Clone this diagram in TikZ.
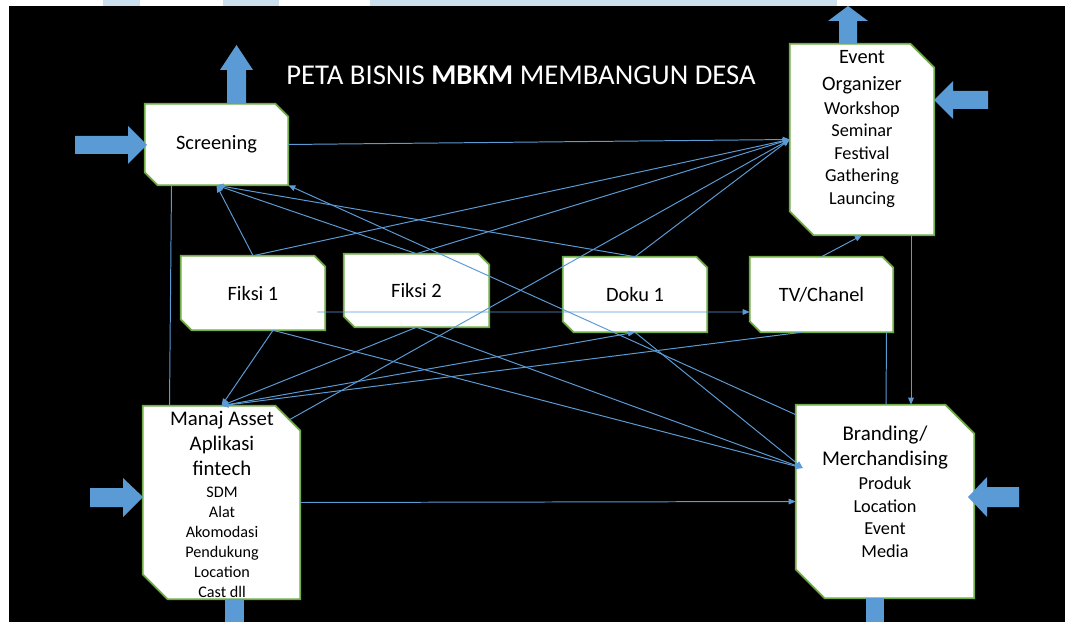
\documentclass[tikz,border=0pt]{standalone}
\usepackage{fontspec}
\setmainfont{Carlito}
\usetikzlibrary{arrows.meta,calc,backgrounds}
\definecolor{boxgreen}{HTML}{70AD47}
\definecolor{linkblue}{HTML}{5B9BD5}
\definecolor{fadeblue}{HTML}{CCDFEE}

\tikzset{
  docbox/.style={rectangle, inner sep=0pt, font=\fontsize{14.5}{17}\selectfont},
  boxline/.style={draw=boxgreen, line width=1.3pt, fill=white, line join=miter},
  link/.style={draw=linkblue, line width=0.7pt},
  linkto/.style={link, -{Triangle[length=5pt,width=4pt]}},
  boxtext/.style={align=center, inner sep=0pt, font=\fontsize{13}{16}\selectfont},
}
% outline with snipped top right and bottom left corners
\newcommand\snipbox[2]{%
  \path[boxline] (#1.north west) -- ($(#1.north east)+(-#2,0)$) -- ($(#1.north east)+(0,#2)$)
    -- (#1.south east) -- ($(#1.south west)+(#2,0)$) -- ($(#1.south west)+(0,-#2)$) -- cycle;}

\begin{document}
\begin{tikzpicture}[x=0.025cm,y=-0.025cm]
\useasboundingbox (0,0) rectangle (1065,622);

% title
\node[text=white, font=\fontsize{20.4}{24}\selectfont] (title) at (521,75)
  {PETA BISNIS \textbf{MBKM} MEMBANGUN DESA};

% boxes
\node[docbox, minimum width=3.575cm, minimum height=2.025cm] (screening) at (216.5,144.5) {Screening};
\node[docbox, minimum width=3.6cm, minimum height=4.775cm] (event) at (862,139.5) {};
\node[docbox, minimum width=3.6cm, minimum height=1.85cm] (fiksi1) at (253,293) {Fiksi 1};
\node[docbox, minimum width=3.625cm, minimum height=1.825cm] (fiksi2) at (416.5,290.5) {Fiksi 2};
\node[docbox, minimum width=3.6cm, minimum height=1.875cm] (doku) at (635,294.5) {Doku 1};
\node[docbox, minimum width=3.575cm, minimum height=1.875cm] (tv) at (821.5,294.5) {TV/Chanel};
\node[docbox, minimum width=3.925cm, minimum height=4.825cm] (manaj) at (221.5,502.5) {};
\node[docbox, minimum width=4.45cm, minimum height=4.825cm] (branding) at (885,501.5) {};

% box texts
\node[boxtext] (eventtext) at (862,129)
  {{\fontsize{14.5}{16}\selectfont Event}\\[3pt]{\fontsize{14.5}{16}\selectfont Organizer}\\[1pt]
   Workshop\\Seminar\\Festival\\Gathering\\Launcing};
\node[boxtext, font=\fontsize{11.5}{14.2}\selectfont] (manajtext) at (222,504)
  {{\fontsize{14.8}{14.2}\selectfont Manaj Asset}\\[3.6pt]{\fontsize{14.8}{14.2}\selectfont Aplikasi}\\[3.6pt]
   {\fontsize{14.8}{14.2}\selectfont fintech}\\[1.5pt]SDM\\Alat\\Akomodasi\\Pendukung\\Location\\Cast dll};
\node[boxtext] (brandingtext) at (885,491.5)
  {{\fontsize{14.9}{16}\selectfont Branding/}\\[1.8pt]{\fontsize{14.9}{16}\selectfont Merchandising}\\[1.5pt]
   Produk\\Location\\Event\\Media};

% background and box outlines
\begin{pgfonlayer}{background}
\fill[white] (0,0) rectangle (1065,622);
\fill[black] (9,6) rectangle (1065,622);
\fill[fadeblue] (103,0) rectangle (140,6);
\fill[fadeblue] (223,0) rectangle (279,6);
\fill[fadeblue] (370,0) rectangle (837,6);
\snipbox{screening}{13}
\snipbox{event}{24}
\snipbox{fiksi1}{11}
\snipbox{fiksi2}{11}
\snipbox{doku}{11}
\snipbox{tv}{11}
\snipbox{manaj}{25}
\snipbox{branding}{29}
\end{pgfonlayer}

% block arrows
\fill[linkblue] (75,136) -- (128,136) -- (128,126) -- (147,145) -- (128,164) -- (128,154) -- (75,154) -- cycle;
\fill[linkblue] (227,104) -- (227,70) -- (220,70) -- (236.5,45) -- (253,70) -- (246,70) -- (246,104) -- cycle;
\fill[linkblue] (839,44) -- (839,21) -- (828,21) -- (848,6) -- (868,21) -- (857,21) -- (857,44) -- cycle;
\fill[linkblue] (988,91) -- (953,91) -- (953,81) -- (934,100) -- (953,119) -- (953,109) -- (988,109) -- cycle;
\fill[linkblue] (90,488) -- (123,488) -- (123,478) -- (143,497) -- (123,517) -- (123,507) -- (90,507) -- cycle;
\fill[linkblue] (225,599) rectangle (244,622);
\fill[linkblue] (1019,487) -- (987,487) -- (987,477) -- (968,497) -- (987,517) -- (987,507) -- (1019,507) -- cycle;
\fill[linkblue] (866,598) rectangle (884,622);

% connectors
\coordinate (brin) at ($(branding.west)+(7,-33.5)$);
\draw[linkto] (screening.east) -- (event.west);
\draw[linkto] (fiksi1.north) -- (event.west);
\draw[linkto] (fiksi2.north) -- (event.west);
\draw[linkto] (doku.north) -- (event.west);
\draw[linkto] ($(manaj.north)+(68,14)$) -- (event.west);
\draw[linkto] (fiksi1.north) -- (screening.south);
\draw[linkto] (fiksi2.north) -- (screening.south);
\draw[linkto] (doku.north) -- (screening.south);
\draw[linkto] ($(branding.north -| branding.west)+(0,10)$) -- (screening.south -| screening.east);
\draw[linkto] (tv.north) -- (event.south);
\draw[linkto] ($(event.south)+(49,0)$) -- ($(branding.north)+(26,0)$);
\draw[link] ($(tv.south)+(65,0)$) -- ($(branding.north)+(1,0)$);
\draw[link] ($(screening.south)+(-45,0)$) -- ($(manaj.north)+(-52,0)$);
\draw[linkto] (manaj.east) -- (branding.west);
\draw[linkto] ($(fiksi1.east)+(-8,19)$) -- ($(tv.west)+(0,17.5)$);
\draw[linkto] ($(fiksi1.south)+(20,0)$) -- (manaj.north);
\draw[linkto] (fiksi2.south) -- (manaj.north);
\draw[linkto] (manaj.north) -- (doku.south);
\draw[linkto] ($(tv.south)+(-20,0)$) -- (manaj.north);
\draw[linkto] ($(fiksi1.south)+(20,0)$) -- (brin);
\draw[linkto] (fiksi2.south) -- (brin);
\draw[linkto] (doku.south) -- (brin);
\end{tikzpicture}
\end{document}
